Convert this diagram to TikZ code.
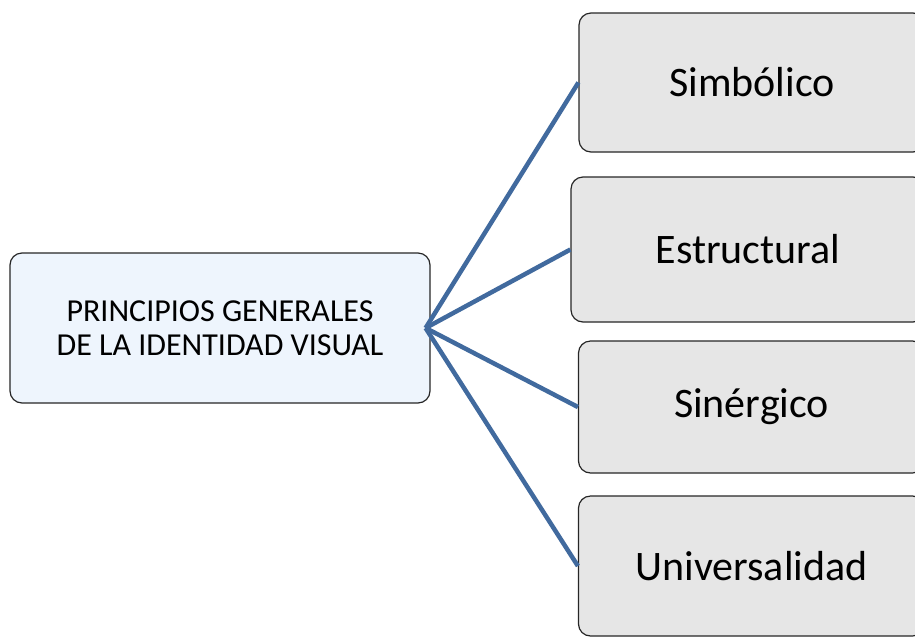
\documentclass[tikz,border=0pt]{standalone}
\usepackage{fontspec}
\setmainfont{Carlito}
\usepackage{tikz}
\usetikzlibrary{positioning}
\definecolor{rootfill}{HTML}{EEF5FD}
\definecolor{leaffill}{HTML}{E6E6E6}
\definecolor{linkblue}{HTML}{416A9E}
\tikzstyle{root} = [rectangle, rounded corners=12pt, minimum width=420pt, minimum height=150pt, inner sep=0pt, align=center, draw=black!85, line width=1.2pt, fill=rootfill, font=\fontsize{32}{33.5}\selectfont]
\tikzstyle{leaf} = [rectangle, rounded corners=12pt, minimum width=346pt, inner sep=0pt, text centered, draw=black!85, line width=1.2pt, fill=leaffill, font=\fontsize{42}{50}\selectfont]
\tikzstyle{link} = [line width=4.5pt, draw=linkblue]

\begin{document}
\begin{tikzpicture}[x=1pt, y=-1pt]
	\useasboundingbox (0,0) rectangle (915,638);
	\node (principios) [root] at (220,328) {PRINCIPIOS GENERALES\\DE LA IDENTIDAD VISUAL};
	\node (simbolico) [leaf, minimum height=139pt] at (752,82.5) {Simbólico};
	\node (estructural) [leaf, minimum height=145pt, minimum width=354pt] at (748,249.5) {Estructural};
	\node (sinergico) [leaf, minimum height=132pt] at (751.5,407) {Sinérgico};
	\node (universalidad) [leaf, minimum height=140pt] at (751.5,566) {Universalidad};
	
	\coordinate (hub) at ([xshift=-5pt]principios.east);
	\draw [link](hub) -- (simbolico.west);
	\draw [link](hub) -- (estructural.west);
	\draw [link](hub) -- (sinergico.west);
	\draw [link](hub) -- (universalidad.west);
\end{tikzpicture}
\end{document}
